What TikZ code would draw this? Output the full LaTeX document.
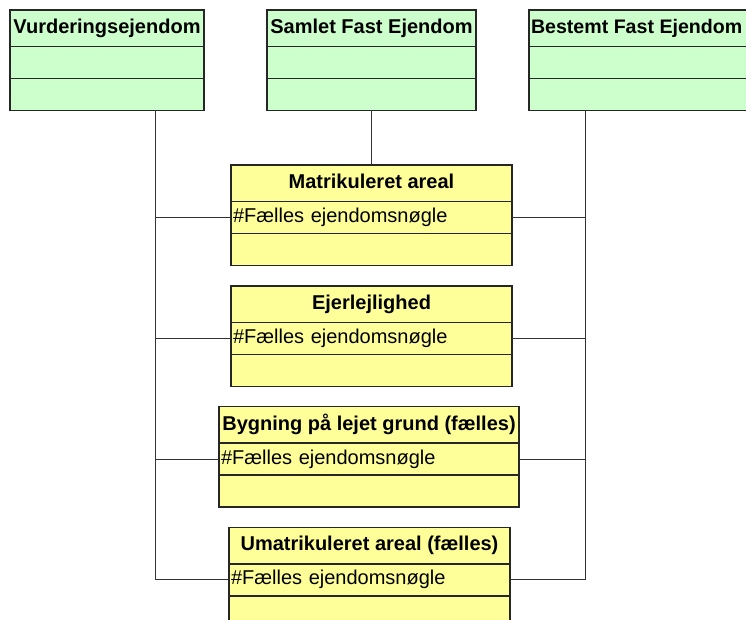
\documentclass[tikz,border=0pt]{standalone}
\usepackage{fontspec}
\setmainfont{Liberation Sans}
\usetikzlibrary{positioning}

\definecolor{lysgroen}{HTML}{CCFFCC}
\definecolor{lysgul}{HTML}{FFFF99}

\tikzset{
    boks/.style = {draw = black!85, line width = 1.5pt, outer sep = 0pt,
                   inner xsep = 2pt, inner ysep = 0pt,
                   font = \fontsize{20}{24}\selectfont,
                   text height = 14.5pt, text depth = 4.2pt,
                   minimum height = 32pt},
    titel/.style = {boks, font = \bfseries\fontsize{20}{24}\selectfont,
                    minimum height = 36.5pt},
    felt/.style = {boks, align = left},
    forbindelse/.style = {black!80, line width = 0.9pt}
}

\begin{document}
\begin{tikzpicture}[x = 1pt, y = -1pt]

    \useasboundingbox (0,0) rectangle (746,620);

    % de tre ejendomstyper
    \node (VE) at (107,28.25) [titel, fill = lysgroen, minimum width = 194pt] {Vurderingsejendom};
    \node (VEa) [felt, fill = lysgroen, text width = 190pt, below = 0pt of VE] {};
    \node (VEo) [felt, fill = lysgroen, text width = 190pt, below = 0pt of VEa] {};

    \node (SF) at (371.5,28.25) [titel, fill = lysgroen, minimum width = 209pt] {Samlet Fast Ejendom};
    \node (SFa) [felt, fill = lysgroen, text width = 205pt, below = 0pt of SF] {};
    \node (SFo) [felt, fill = lysgroen, text width = 205pt, below = 0pt of SFa] {};

    \node (BF) at (640.5,28.25) [titel, fill = lysgroen, text width = 219pt, align = flush left,
        font = \bfseries\fontsize{19.6}{24}\selectfont] {Bestemt Fast Ejendom};
    \node (BFa) [felt, fill = lysgroen, text width = 219pt, below = 0pt of BF] {};
    \node (BFo) [felt, fill = lysgroen, text width = 219pt, below = 0pt of BFa] {};

    % arealtyperne
    \node (MA) at (371.5,183.25) [titel, fill = lysgul, minimum width = 281pt] {Matrikuleret areal};
    \node (MAa) [felt, fill = lysgul, text width = 277pt, below = 0pt of MA] {\#Fælles ejendomsnøgle};
    \node (MAo) [felt, fill = lysgul, text width = 277pt, below = 0pt of MAa] {};

    \node (EJ) at (371.5,304.25) [titel, fill = lysgul, minimum width = 281pt] {Ejerlejlighed};
    \node (EJa) [felt, fill = lysgul, text width = 277pt, below = 0pt of EJ] {\#Fælles ejendomsnøgle};
    \node (EJo) [felt, fill = lysgul, text width = 277pt, below = 0pt of EJa] {};

    \node (BY) at (369,424.95) [titel, fill = lysgul, minimum width = 300pt] {Bygning på lejet grund (fælles)};
    \node (BYa) [felt, fill = lysgul, text width = 296pt, below = 0pt of BY] {\#Fælles ejendomsnøgle};
    \node (BYo) [felt, fill = lysgul, text width = 296pt, below = 0pt of BYa] {};

    \node (UM) at (369.5,545.55) [titel, fill = lysgul, minimum width = 281pt] {Umatrikuleret areal (fælles)};
    \node (UMa) [felt, fill = lysgul, text width = 277pt, below = 0pt of UM] {\#Fælles ejendomsnøgle};
    \node (UMo) [felt, fill = lysgul, text width = 277pt, below = 0pt of UMa] {};

    % forbindelser
    \coordinate (L) at (155,0);
    \coordinate (R) at (585,0);

    \draw[forbindelse] (SFo.south) -- (MA.north);

    \draw[forbindelse] (VEo.south -| L) -- (UMa.west -| L) -- (UMa.west);
    \draw[forbindelse] (MAa.west) -- (MAa.west -| L);
    \draw[forbindelse] (EJa.west) -- (EJa.west -| L);
    \draw[forbindelse] (BYa.west) -- (BYa.west -| L);

    \draw[forbindelse] (BFo.south -| R) -- (UMa.east -| R) -- (UMa.east);
    \draw[forbindelse] (MAa.east) -- (MAa.east -| R);
    \draw[forbindelse] (EJa.east) -- (EJa.east -| R);
    \draw[forbindelse] (BYa.east) -- (BYa.east -| R);

\end{tikzpicture}
\end{document}
